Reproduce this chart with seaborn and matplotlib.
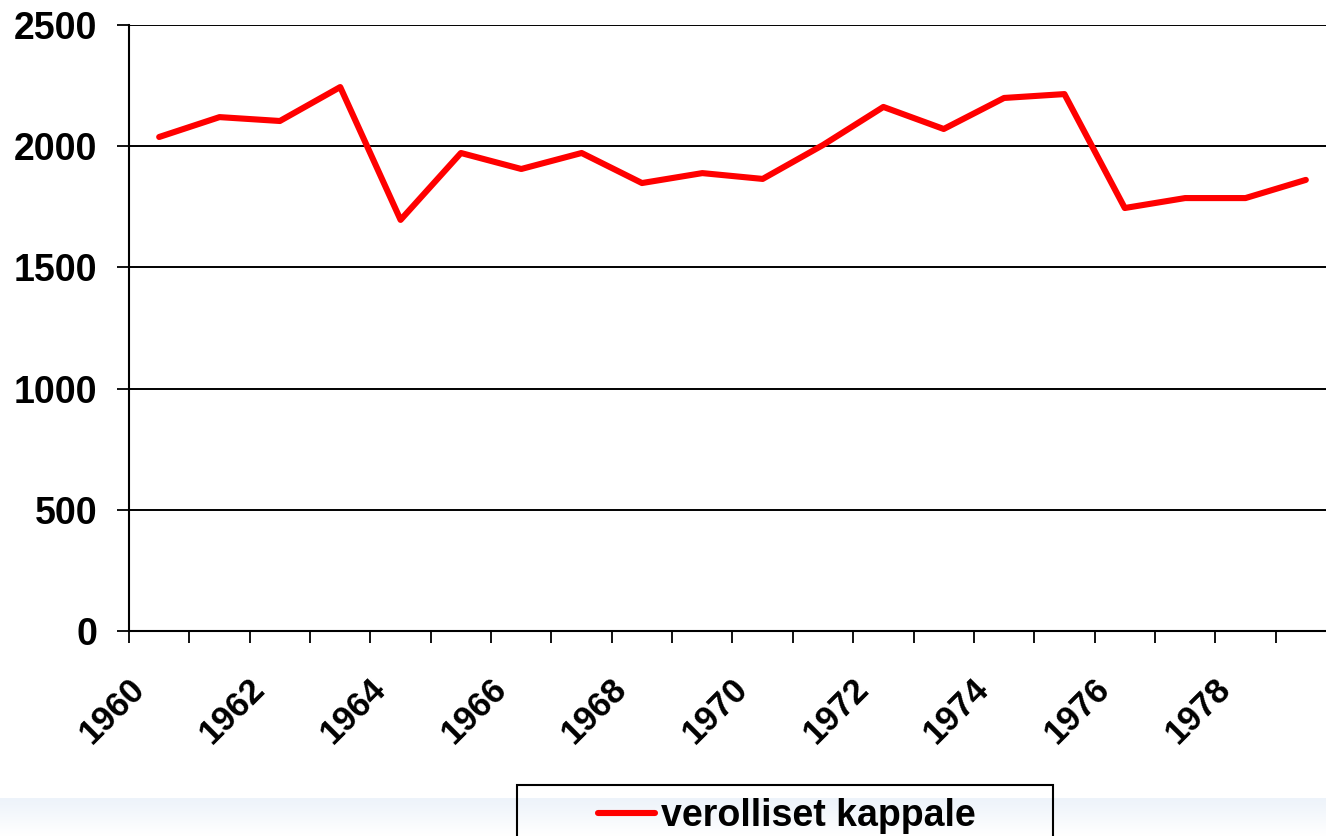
import numpy as np
import pandas as pd
import matplotlib
matplotlib.use("Agg")
import matplotlib.pyplot as plt
import matplotlib.patches as mpatches
import matplotlib.transforms as mtransforms
import seaborn as sns

# ── data ─────────────────────────────────────────────────────────────────────
years = list(range(1960, 1980))
kappale = [2038, 2120, 2104, 2244, 1696, 1972, 1906, 1972, 1848, 1889,
           1865, 2005, 2162, 2071, 2199, 2215, 1745, 1786, 1786, 1861]
y_ticks = [0, 500, 1000, 1500, 2000, 2500]
label_years = [1960, 1962, 1964, 1966, 1968, 1970, 1972, 1974, 1976, 1978]
series_name = "verolliset kappale"

df = pd.DataFrame({"year": years, "value": kappale})

sns.set_theme(style="white")
plt.rcParams.update({
    "font.family": ["Liberation Sans", "DejaVu Sans"],
    "text.color": "black",
    "xtick.color": "black",
    "ytick.color": "black",
})

W, H = 1326, 836
fig = plt.figure(figsize=(W / 100, H / 100), dpi=100)
fig.patch.set_facecolor("white")

# faint bluish band along the bottom (slide background)
bg = fig.add_axes([0, 0, 1, 38 / H], zorder=-10)
grad = np.linspace(1, 0, 64).reshape(-1, 1)
bg.imshow(grad, aspect="auto", cmap=matplotlib.colors.LinearSegmentedColormap.from_list(
    "bg", ["#ffffff", "#edf3fa"]), extent=[0, 1, 0, 1])
bg.set_axis_off()

ax = fig.add_axes([129 / W, 205 / H, 1207 / W, 606 / H])
ax.set_facecolor("none")

sns.lineplot(data=df, x="year", y="value", ax=ax, color="#ff0000",
             linewidth=4.4, label=series_name, legend=False, zorder=3)

ax.set_xlim(years[0] - 0.5, years[-1] + 0.5)
ax.set_ylim(0, 2500)
ax.set_yticks(y_ticks)
ax.set_yticklabels([str(v) for v in y_ticks], fontsize=27, fontweight="bold")
ax.yaxis.grid(True, color="black", linewidth=1.4)
ax.set_xlabel("")
ax.set_ylabel("")

# category boundary ticks, labels on every other category
ax.set_xticks(np.arange(years[0] - 0.5, years[-1] + 1, 1))
ax.set_xticklabels([])
ax.set_xticks(label_years, minor=True)
ax.set_xticklabels([str(y) for y in label_years], minor=True, fontsize=25,
                   fontweight="bold", rotation=45, ha="right", va="center",
                   rotation_mode="anchor")
ax.tick_params(axis="x", which="major", length=8.6, width=1.3, color="black",
               direction="out", bottom=True)
ax.tick_params(axis="x", which="minor", length=0, pad=38)
ax.tick_params(axis="y", length=8.6, width=1.3, color="black", direction="out",
               left=True, pad=14)
offset = mtransforms.ScaledTranslation(-20 / 100, 0, fig.dpi_scale_trans)
for lab in ax.get_xticklabels(minor=True):
    lab.set_transform(lab.get_transform() + offset)

for side in ["top", "right"]:
    ax.spines[side].set_visible(False)
for side in ["left", "bottom"]:
    ax.spines[side].set_color("black")
    ax.spines[side].set_linewidth(1.5)

# legend box (runs off the bottom edge like the source slide)
fig.patches.append(mpatches.Rectangle((517 / W, -20 / H), 536 / W, (836 - 785 + 20) / H,
                                      transform=fig.transFigure, fill=False,
                                      edgecolor="black", linewidth=1.5))
handles, labels = ax.get_legend_handles_labels()
leg = fig.legend(handles, labels, loc="center",
                 bbox_to_anchor=(787 / W, 1 - 816 / H),
                 prop={"weight": "bold", "size": 27},
                 frameon=False, handlelength=1.52, handletextpad=0.15,
                 borderpad=0, borderaxespad=0)
for line in leg.get_lines():
    line.set_linewidth(4.4)

fig.savefig("out.png", dpi=100)
